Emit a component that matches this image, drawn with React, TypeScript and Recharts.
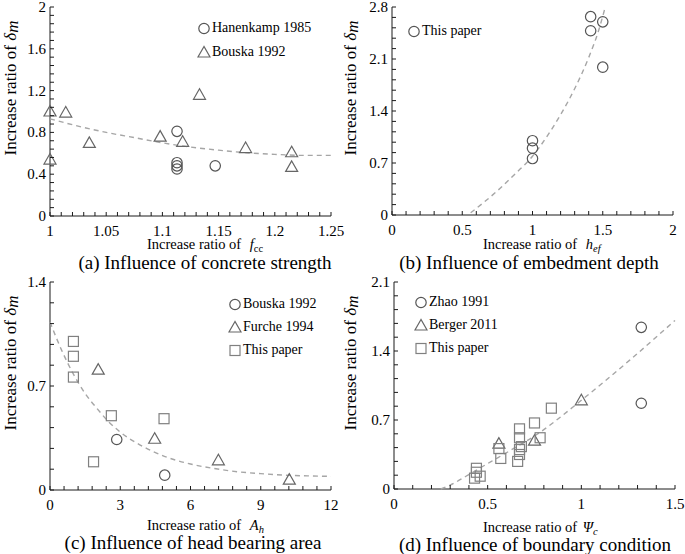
import type { ReactNode } from "react";
import { Legend, Scatter, ScatterChart, XAxis, YAxis } from "recharts";

const FONT = '"Liberation Serif", "Times New Roman", Times, serif';
const AXIS = "#1a1a1a";
const TREND = "#a6a6a6";

type Pt = { x: number; y: number };
type Marker = "circle" | "triangle" | "square";

// (a) concrete strength
const hanenkamp1985: Pt[] = [
  { x: 1.113, y: 0.81 },
  { x: 1.113, y: 0.51 },
  { x: 1.113, y: 0.48 },
  { x: 1.113, y: 0.45 },
  { x: 1.147, y: 0.48 },
];
const bouska1992A: Pt[] = [
  { x: 1.0, y: 1.0 },
  { x: 1.0, y: 0.54 },
  { x: 1.014, y: 0.99 },
  { x: 1.035, y: 0.7 },
  { x: 1.098, y: 0.76 },
  { x: 1.118, y: 0.71 },
  { x: 1.133, y: 1.16 },
  { x: 1.174, y: 0.65 },
  { x: 1.215, y: 0.61 },
  { x: 1.215, y: 0.47 },
];
const trendA: Pt[] = [
  { x: 1.0, y: 0.93 },
  { x: 1.025, y: 0.86 },
  { x: 1.05, y: 0.8 },
  { x: 1.075, y: 0.75 },
  { x: 1.1, y: 0.7 },
  { x: 1.125, y: 0.66 },
  { x: 1.15, y: 0.63 },
  { x: 1.175, y: 0.605 },
  { x: 1.2, y: 0.59 },
  { x: 1.225, y: 0.58 },
  { x: 1.25, y: 0.58 },
];
const xTicksA = [1, 1.05, 1.1, 1.15, 1.2, 1.25];
const yTicksA = [0, 0.4, 0.8, 1.2, 1.6, 2];

// (b) embedment depth
const thisPaperB: Pt[] = [
  { x: 1.0, y: 1.0 },
  { x: 1.0, y: 0.9 },
  { x: 1.0, y: 0.76 },
  { x: 1.414, y: 2.67 },
  { x: 1.414, y: 2.48 },
  { x: 1.5, y: 2.6 },
  { x: 1.5, y: 1.99 },
];
const trendB: Pt[] = [
  { x: 0.56, y: 0.03 },
  { x: 0.66, y: 0.18 },
  { x: 0.77, y: 0.36 },
  { x: 0.88, y: 0.56 },
  { x: 1.0, y: 0.79 },
  { x: 1.1, y: 1.05 },
  { x: 1.2, y: 1.35 },
  { x: 1.3, y: 1.7 },
  { x: 1.4, y: 2.12 },
  { x: 1.47, y: 2.48 },
  { x: 1.515, y: 2.78 },
];
const xTicksB = [0, 0.5, 1, 1.5, 2];
const yTicksB = [0, 0.7, 1.4, 2.1, 2.8];

// (c) head bearing area
const bouska1992C: Pt[] = [
  { x: 2.85, y: 0.34 },
  { x: 4.9, y: 0.1 },
];
const furche1994: Pt[] = [
  { x: 2.06, y: 0.81 },
  { x: 4.47, y: 0.345 },
  { x: 7.19, y: 0.2 },
  { x: 10.22, y: 0.07 },
];
const thisPaperC: Pt[] = [
  { x: 1.0, y: 1.0 },
  { x: 1.0, y: 0.9 },
  { x: 1.0, y: 0.76 },
  { x: 2.62, y: 0.5 },
  { x: 1.86, y: 0.19 },
  { x: 4.87, y: 0.48 },
];
const trendC: Pt[] = [
  { x: 0, y: 1.13 },
  { x: 0.5, y: 0.94 },
  { x: 1, y: 0.78 },
  { x: 1.5, y: 0.65 },
  { x: 2, y: 0.55 },
  { x: 2.5, y: 0.46 },
  { x: 3, y: 0.39 },
  { x: 4, y: 0.29 },
  { x: 5, y: 0.22 },
  { x: 6, y: 0.175 },
  { x: 7, y: 0.145 },
  { x: 8, y: 0.123 },
  { x: 9, y: 0.11 },
  { x: 10, y: 0.1 },
  { x: 11, y: 0.095 },
  { x: 12, y: 0.092 },
];
const xTicksC = [0, 3, 6, 9, 12];
const yTicksC = [0, 0.7, 1.4];

// (d) boundary condition
const zhao1991: Pt[] = [
  { x: 1.32, y: 1.64 },
  { x: 1.32, y: 0.87 },
];
const berger2011: Pt[] = [
  { x: 0.56, y: 0.46 },
  { x: 0.75, y: 0.49 },
  { x: 1.0, y: 0.9 },
];
const thisPaperD: Pt[] = [
  { x: 0.44, y: 0.21 },
  { x: 0.44, y: 0.17 },
  { x: 0.43, y: 0.11 },
  { x: 0.46, y: 0.13 },
  { x: 0.56, y: 0.41 },
  { x: 0.57, y: 0.31 },
  { x: 0.66, y: 0.28 },
  { x: 0.67, y: 0.35 },
  { x: 0.67, y: 0.4 },
  { x: 0.68, y: 0.43 },
  { x: 0.67, y: 0.52 },
  { x: 0.67, y: 0.61 },
  { x: 0.75, y: 0.67 },
  { x: 0.78, y: 0.52 },
  { x: 0.84, y: 0.82 },
];
const trendD: Pt[] = [
  { x: 0.25, y: 0 },
  { x: 0.3, y: 0.04 },
  { x: 0.42, y: 0.17 },
  { x: 0.52, y: 0.28 },
  { x: 0.62, y: 0.39 },
  { x: 0.76, y: 0.55 },
  { x: 1.0, y: 0.9 },
  { x: 1.26, y: 1.31 },
  { x: 1.5, y: 1.71 },
];
const xTicksD = [0, 0.5, 1, 1.5];
const yTicksD = [0, 0.7, 1.4, 2.1];

const withMinor = (major: number[], n = 5) => {
  const out: number[] = [];
  for (let i = 0; i < major.length - 1; i++) {
    const step = (major[i + 1] - major[i]) / n;
    for (let k = 0; k < n; k++) out.push(+(major[i] + k * step).toFixed(4));
  }
  out.push(major[major.length - 1]);
  return out;
};
const isMajor = (major: number[], v: number) => major.some((m) => Math.abs(m - v) < 1e-6);

const xTick = (major: number[]) => (p: any) => {
  const v = p.payload.value;
  return (
    <g>
      <line x1={p.x} x2={p.x} y1={p.y} y2={p.y - 4} stroke={AXIS} />
      {isMajor(major, v) && (
        <text x={p.x} y={p.y + 20} textAnchor="middle" fontSize={15} fontFamily={FONT} fill="#000">
          {String(v)}
        </text>
      )}
    </g>
  );
};
const yTick = (major: number[]) => (p: any) => {
  const v = p.payload.value;
  return (
    <g>
      <line x1={p.x} x2={p.x + 4} y1={p.y} y2={p.y} stroke={AXIS} />
      {isMajor(major, v) && (
        <text x={p.x - 4} y={p.y + 5} textAnchor="end" fontSize={15} fontFamily={FONT} fill="#000">
          {String(v)}
        </text>
      )}
    </g>
  );
};

const MARK_COLOR: Record<Marker, string> = { circle: "#555", triangle: "#666", square: "#808080" };

function MarkerGlyph({ kind, cx, cy }: { kind: Marker; cx: number; cy: number }) {
  const stroke = MARK_COLOR[kind];
  if (kind === "circle")
    return <circle cx={cx} cy={cy} r={5.2} fill="none" stroke={stroke} strokeWidth={1.2} />;
  if (kind === "triangle")
    return (
      <polygon
        points={`${cx},${cy - 6} ${cx - 6},${cy + 4.5} ${cx + 6},${cy + 4.5}`}
        fill="none"
        stroke={stroke}
        strokeWidth={1.2}
      />
    );
  return <rect x={cx - 5} y={cy - 5} width={10} height={10} fill="none" stroke={stroke} strokeWidth={1.2} />;
}

type Series = { name: string; data: Pt[]; marker: Marker };

type PanelProps = {
  left: number;
  top: number;
  height: number;
  plotLeft: number;
  marginRight: number;
  xAxisHeight: number;
  xDomain: [number, number];
  yDomain: [number, number];
  xMajor: number[];
  yMajor: number[];
  series: Series[];
  trend: Pt[];
  xTitle: ReactNode;
  xTitleX: number;
  xTitleDy: number;
  caption: string;
  captionX: number;
  captionDy: number;
  legendLeft: number;
  legendTop: number;
  legendRow: number;
};

function Panel(props: PanelProps) {
  const plotBottom = props.height - props.xAxisHeight;
  return (
    <div style={{ position: "absolute", left: props.left, top: props.top }}>
      <ScatterChart
        width={345}
        height={props.height}
        margin={{ top: 7, right: props.marginRight + 3, left: 0, bottom: 0 }}
      >
        <XAxis
          type="number"
          dataKey="x"
          domain={props.xDomain}
          ticks={withMinor(props.xMajor)}
          interval={0}
          height={props.xAxisHeight}
          tickSize={0}
          tickMargin={0}
          tickLine={false}
          axisLine={{ stroke: AXIS }}
          tick={xTick(props.xMajor)}
          label={{
            content: () => (
              <g fontFamily={FONT} fill="#000">
                <text x={props.xTitleX} y={plotBottom + props.xTitleDy} fontSize={14.5}>
                  {props.xTitle}
                </text>
                <text
                  x={props.captionX}
                  y={plotBottom + props.captionDy}
                  fontSize={19}
                  textAnchor="middle"
                >
                  {props.caption}
                </text>
              </g>
            ),
          }}
        />
        <YAxis
          type="number"
          dataKey="y"
          domain={props.yDomain}
          ticks={withMinor(props.yMajor)}
          interval={0}
          width={props.plotLeft}
          tickSize={0}
          tickMargin={0}
          tickLine={false}
          axisLine={{ stroke: AXIS }}
          tick={yTick(props.yMajor)}
          label={{
            content: () => (
              <text
                x={15.5}
                y={88}
                transform="rotate(-90, 15.5, 88)"
                textAnchor="middle"
                fontFamily={FONT}
                fontSize={17}
                fill="#000"
              >
                Increase ratio of <tspan fontStyle="italic">δ</tspan>
                <tspan fontStyle="italic" dy={2}>
                  m
                </tspan>
              </text>
            ),
          }}
        />
        <Scatter
          data={props.trend}
          fill="none"
          line={{ stroke: TREND, strokeWidth: 1.4, strokeDasharray: "5 4" }}
          lineJointType="monotoneX"
          shape={() => <g />}
          legendType="none"
          isAnimationActive={false}
        />
        {props.series.map((s) => (
          <Scatter
            key={s.name}
            name={s.name}
            data={s.data}
            shape={(p: any) => <MarkerGlyph kind={s.marker} cx={p.cx} cy={p.cy} />}
            isAnimationActive={false}
          />
        ))}
        <Legend
          layout="vertical"
          align="center"
          verticalAlign="middle"
          wrapperStyle={{ left: props.legendLeft, top: props.legendTop, width: 160 }}
          content={() => (
            <div style={{ fontFamily: FONT, fontSize: 14, color: "#000" }}>
              {props.series.map((s) => (
                <div
                  key={s.name}
                  style={{ height: props.legendRow, display: "flex", alignItems: "center", whiteSpace: "nowrap" }}
                >
                  <svg width={14} height={14} style={{ marginRight: 1 }}>
                    <MarkerGlyph kind={s.marker} cx={7} cy={7.5} />
                  </svg>
                  <span>{s.name}</span>
                </div>
              ))}
            </div>
          )}
        />
      </ScatterChart>
    </div>
  );
}

export default function App() {
  return (
    <div style={{ position: "absolute", left: 0, top: 0, width: 685, height: 554, background: "#fff", overflow: "hidden" }}>
      <Panel
        left={0}
        top={0}
        height={275}
        plotLeft={50}
        marginRight={11}
        xAxisHeight={59}
        xDomain={[1, 1.25]}
        yDomain={[0, 2]}
        xMajor={xTicksA}
        yMajor={yTicksA}
        series={[
          { name: "Hanenkamp 1985", data: hanenkamp1985, marker: "circle" },
          { name: "Bouska 1992", data: bouska1992A, marker: "triangle" },
        ]}
        trend={trendA}
        xTitle={
          <>
            Increase ratio of{"  "}
            <tspan fontStyle="italic" dx={5}>
              f
            </tspan>
            <tspan fontSize={10.5} dy={3}>
              cc
            </tspan>
          </>
        }
        xTitleX={147}
        xTitleDy={33}
        caption="(a) Influence of concrete strength"
        captionX={205}
        captionDy={53}
        legendLeft={197}
        legendTop={16}
        legendRow={24}
      />
      <Panel
        left={340}
        top={0}
        height={275}
        plotLeft={52}
        marginRight={9}
        xAxisHeight={60}
        xDomain={[0, 2]}
        yDomain={[0, 2.8]}
        xMajor={xTicksB}
        yMajor={yTicksB}
        series={[{ name: "This paper", data: thisPaperB, marker: "circle" }]}
        trend={trendB}
        xTitle={
          <>
            Increase ratio of{" "}
            <tspan fontStyle="italic" dx={5}>
              h
            </tspan>
            <tspan fontStyle="italic" fontSize={10.5} dy={3}>
              ef
            </tspan>
          </>
        }
        xTitleX={143}
        xTitleDy={34}
        caption="(b) Influence of embedment depth"
        captionX={189}
        captionDy={54}
        legendLeft={67}
        legendTop={19}
        legendRow={24}
      />
      <Panel
        left={0}
        top={275}
        height={279}
        plotLeft={50}
        marginRight={11}
        xAxisHeight={64}
        xDomain={[0, 12]}
        yDomain={[0, 1.4]}
        xMajor={xTicksC}
        yMajor={yTicksC}
        series={[
          { name: "Bouska 1992", data: bouska1992C, marker: "circle" },
          { name: "Furche 1994", data: furche1994, marker: "triangle" },
          { name: "This paper", data: thisPaperC, marker: "square" },
        ]}
        trend={trendC}
        xTitle={
          <>
            Increase ratio of{" "}
            <tspan fontStyle="italic" dx={5}>
              A
            </tspan>
            <tspan fontStyle="italic" fontSize={10.5} dy={3}>
              h
            </tspan>
          </>
        }
        xTitleX={147}
        xTitleDy={40}
        caption="(c) Influence of head bearing area"
        captionX={193}
        captionDy={59}
        legendLeft={228}
        legendTop={17}
        legendRow={23}
      />
      <Panel
        left={340}
        top={275}
        height={279}
        plotLeft={54}
        marginRight={7}
        xAxisHeight={65}
        xDomain={[0, 1.5]}
        yDomain={[0, 2.1]}
        xMajor={xTicksD}
        yMajor={yTicksD}
        series={[
          { name: "Zhao 1991", data: zhao1991, marker: "circle" },
          { name: "Berger 2011", data: berger2011, marker: "triangle" },
          { name: "This paper", data: thisPaperD, marker: "square" },
        ]}
        trend={trendD}
        xTitle={
          <>
            Increase ratio of{" "}
            <tspan fontStyle="italic" dx={2}>
              Ψ
            </tspan>
            <tspan fontStyle="italic" fontSize={10.5} dy={3}>
              c
            </tspan>
          </>
        }
        xTitleX={143}
        xTitleDy={43}
        caption="(d) Influence of boundary condition"
        captionX={195}
        captionDy={62}
        legendLeft={74}
        legendTop={15}
        legendRow={23}
      />
    </div>
  );
}
